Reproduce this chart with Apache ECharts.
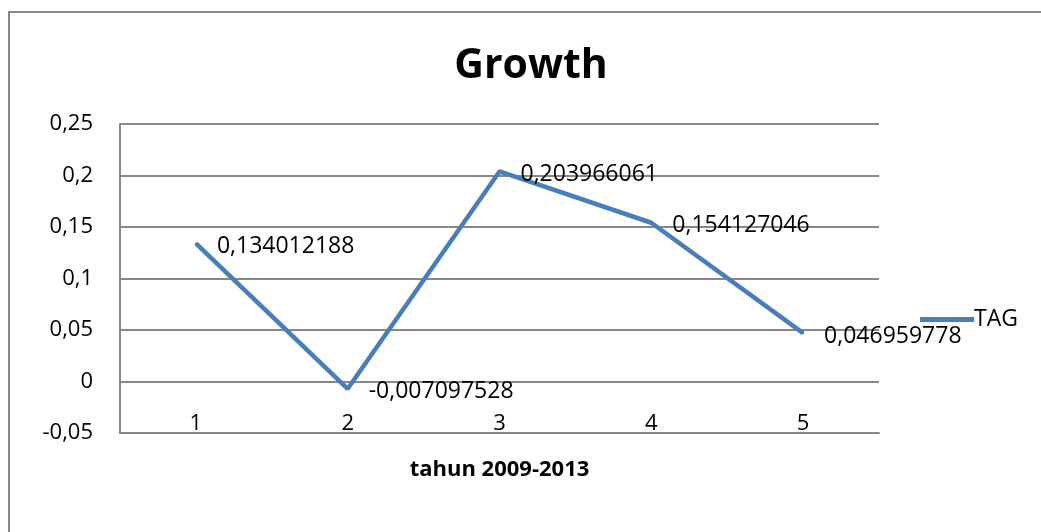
<!DOCTYPE html>
<html>
<head>
<meta charset="utf-8">
<script src="https://cdn.jsdelivr.net/npm/echarts@6/dist/echarts.min.js"></script>
<style>
  html, body { margin: 0; padding: 0; background: #fff; }
  #chart { width: 1041px; height: 532px; }
</style>
</head>
<body>
<div id="chart"></div>
<script>
const categories = ["1", "2", "3", "4", "5"];
const tagValues = [0.134012188, -0.007097528, 0.203966061, 0.154127046, 0.046959778];
const seriesName = "TAG";
const titleText = "Growth";
const xAxisName = "tahun 2009-2013";

const toComma = (v) => String(v).replace(".", ",");

const chartInstance = echarts.init(document.getElementById("chart"));
const font = "'Open Sans', 'Noto Sans', sans-serif";

chartInstance.setOption({
  animation: false,
  textStyle: { fontFamily: font },
  graphic: [
    {
      type: "rect",
      shape: { x: 9, y: 12, width: 1100, height: 600 },
      style: { fill: "none", stroke: "#888", lineWidth: 2 },
      silent: true,
    },
  ],
  title: {
    text: titleText,
    left: 526,
    textAlign: "center",
    top: 41,
    textStyle: { fontSize: 41, fontWeight: "bold", color: "#000", fontFamily: font },
  },
  legend: {
    data: [seriesName],
    right: 18,
    top: 303,
    itemWidth: 54,
    itemHeight: 5,
    itemGap: 2,
    icon: "rect",
    itemStyle: { color: "#4a7ebb", opacity: 1 },
    textStyle: { fontSize: 23, color: "#000", fontFamily: font, padding: [0, 0, 0, -5] },
  },
  grid: {
    left: 120,
    right: 162,
    top: 124,
    bottom: 99,
  },
  xAxis: {
    type: "category",
    data: categories,
    name: xAxisName,
    nameLocation: "middle",
    nameGap: 26,
    nameTextStyle: { fontSize: 22, fontWeight: "bold", color: "#000", fontFamily: font },
    axisLine: { onZero: false, lineStyle: { color: "#888", width: 2 } },
    axisTick: { show: false },
    axisLabel: {
      inside: true,
      margin: -2,
      fontSize: 22,
      color: "#000",
      fontFamily: font,
    },
  },
  yAxis: {
    type: "value",
    min: -0.05,
    max: 0.25,
    interval: 0.05,
    axisLine: { show: true, lineStyle: { color: "#888", width: 2 } },
    axisTick: { show: false },
    axisLabel: {
      margin: 27,
      fontSize: 22,
      color: "#000",
      fontFamily: font,
      formatter: (v) => toComma(Math.round(v * 100) / 100),
    },
    splitLine: { lineStyle: { color: "#888", width: 2 } },
  },
  series: [
    {
      name: seriesName,
      type: "line",
      data: tagValues,
      symbol: "circle",
      symbolSize: 2,
      showSymbol: true,
      lineStyle: { color: "#4a7ebb", width: 4.5 },
      itemStyle: { color: "#4a7ebb", borderWidth: 0 },
      label: {
        show: true,
        position: "right",
        distance: 20,
        offset: [0, 3],
        fontSize: 23,
        color: "#000",
        fontFamily: font,
        formatter: (p) => toComma(p.value),
      },
    },
  ],
});
</script>
</body>
</html>
